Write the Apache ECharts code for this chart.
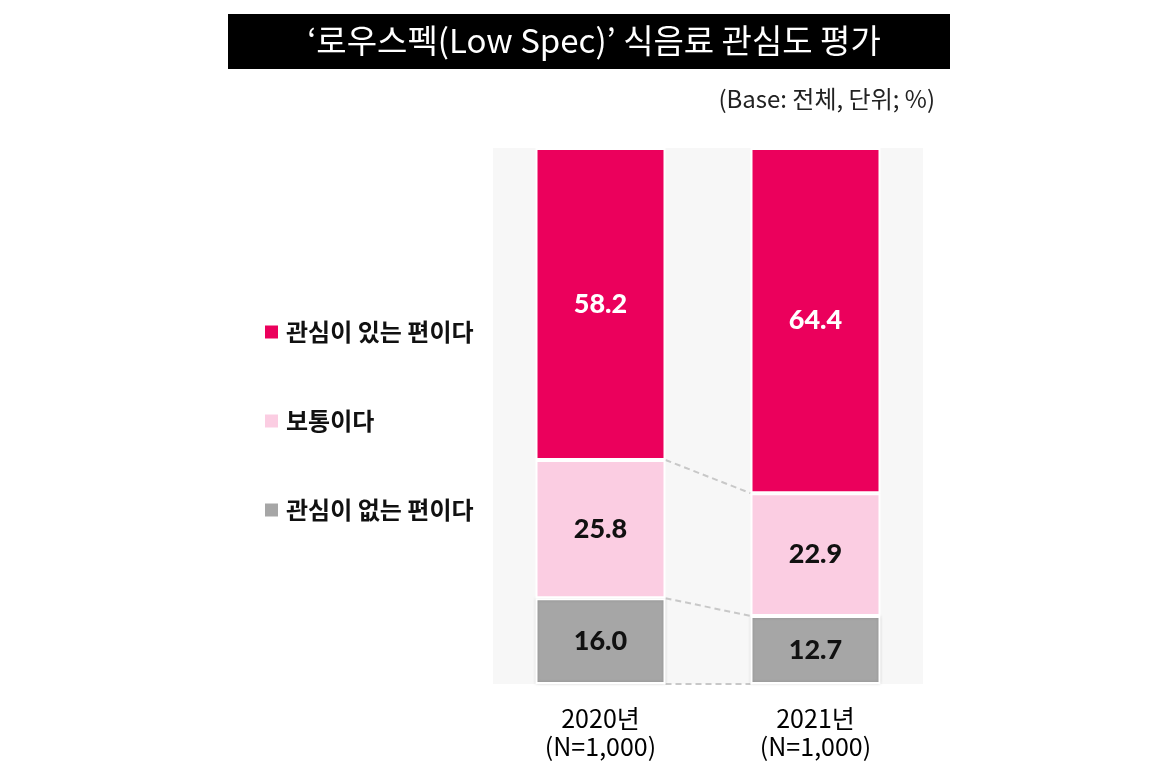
<!DOCTYPE html>
<html>
<head>
<meta charset="utf-8">
<script src="https://cdn.jsdelivr.net/npm/echarts@6/dist/echarts.min.js"></script>
<style>html,body{margin:0;padding:0;background:#fff;}#c{width:1176px;height:781px;}</style>
</head>
<body>
<div id="c"></div>
<script>
const categories = ['2020년\n(N=1,000)', '2021년\n(N=1,000)'];
const seriesNames = ['관심이 있는 편이다', '보통이다', '관심이 없는 편이다'];
const interested = [58.2, 64.4];
const neutral = [25.8, 22.9];
const notInterested = [16.0, 12.7];
const titleText = '‘로우스펙(Low Spec)’ 식음료 관심도 평가';
const subtitleText = '(Base: 전체, 단위; %)';

// boundaries between stacked segments for connector lines
const connectors = [
  [0, 0],
  [notInterested[0], notInterested[1]],
  [notInterested[0] + neutral[0], notInterested[1] + neutral[1]]
];

const chart = echarts.init(document.getElementById('c'));
const labelFont = 'Lato, "Noto Sans", sans-serif';
const krFont = '"Noto Sans CJK KR", "Noto Sans", sans-serif';
const barW = 130;

function segLabel(color) {
  return {
    show: true, position: 'inside', color: color,
    fontFamily: labelFont, fontWeight: 900, fontSize: 27,
    formatter: p => p.value.toFixed(1)
  };
}

chart.setOption({
  animation: false,
  title: {
    text: titleText, left: 589, top: 19, textAlign: 'center',
    textStyle: { color: '#fff', fontSize: 33, fontWeight: 'normal', fontFamily: krFont }
  },
  graphic: [
    { type: 'rect', z: -1, shape: { x: 228, y: 14, width: 722, height: 55 }, style: { fill: '#000' } },
    { type: 'text', right: 241, top: 87, style: { text: subtitleText, fill: '#222', fontSize: 24, fontFamily: krFont } }
  ],
  legend: {
    orient: 'vertical', left: 263, top: 320, padding: 0,
    itemWidth: 15, itemHeight: 15, itemGap: 65, icon: 'rect',
    data: seriesNames,
    textStyle: { fontSize: 24, fontWeight: 'bold', color: '#111', fontFamily: krFont, padding: [0, 0, 0, 2] }
  },
  grid: { left: 493, right: 253, top: 148, bottom: 97, show: true, backgroundColor: '#f7f7f7', borderWidth: 0 },
  xAxis: {
    type: 'category', data: categories,
    axisLine: { show: false }, axisTick: { show: false },
    axisLabel: { color: '#000', fontSize: 25, lineHeight: 28, margin: 20, fontFamily: krFont }
  },
  yAxis: { type: 'value', min: 0, max: 100, show: false, splitLine: { show: false } },
  series: [
    {
      name: seriesNames[2], type: 'bar', stack: 's', data: notInterested, barWidth: barW,
      itemStyle: { color: '#a6a6a6', borderColor: '#fff', borderWidth: 2, shadowBlur: 3, shadowColor: 'rgba(0,0,0,0.15)' },
      label: segLabel('#111')
    },
    {
      name: seriesNames[1], type: 'bar', stack: 's', data: neutral, barWidth: barW,
      itemStyle: { color: '#fbcde2', borderColor: '#fff', borderWidth: 2 },
      label: segLabel('#111')
    },
    {
      name: seriesNames[0], type: 'bar', stack: 's', data: interested, barWidth: barW,
      itemStyle: { color: '#eb005c', borderColor: '#fff', borderWidth: 2 },
      label: segLabel('#fff')
    },
    {
      type: 'custom', name: 'connector', silent: true, z: 1,
      data: connectors,
      renderItem: function (params, api) {
        const a = api.coord([0, api.value(0)]);
        const b = api.coord([1, api.value(1)]);
        const half = barW / 2;
        return {
          type: 'line',
          shape: { x1: a[0] + half, y1: a[1], x2: b[0] - half, y2: b[1] },
          style: { stroke: '#c8c8c8', lineWidth: 2, lineDash: [6, 4] }
        };
      },
      encode: { x: 0, y: 1 }
    }
  ]
});
</script>
</body>
</html>
